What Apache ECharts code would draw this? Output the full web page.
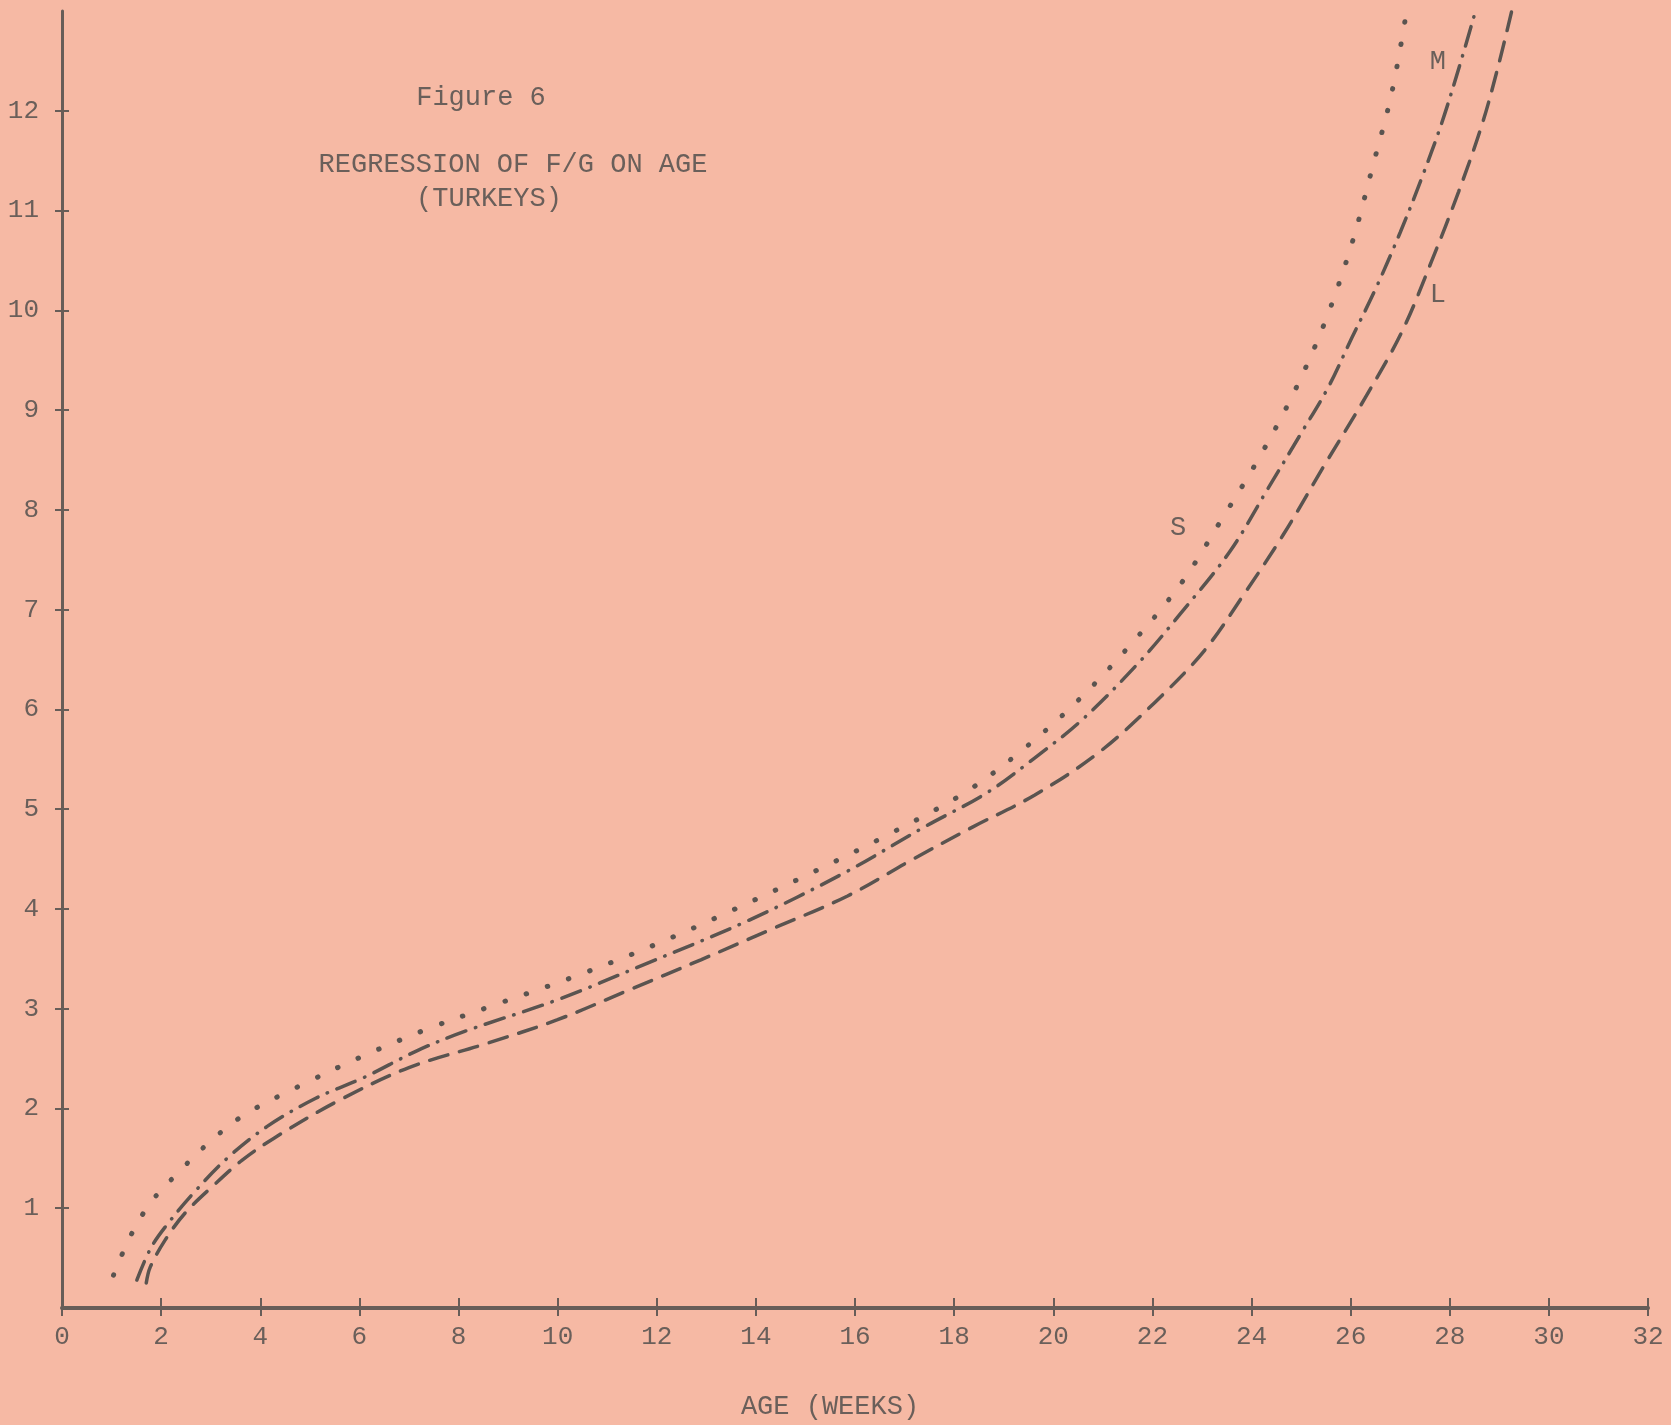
<!DOCTYPE html>
<html>
<head>
<meta charset="utf-8">
<script src="https://cdn.jsdelivr.net/npm/echarts@6/dist/echarts.min.js"></script>
<style>
html,body{margin:0;padding:0;background:#f6b9a4;}
#c{width:1671px;height:1425px;}
</style>
</head>
<body>
<div id="c"></div>
<script>
// ---- data ----
var xTicks = [0,2,4,6,8,10,12,14,16,18,20,22,24,26,28,30,32];
var yTicks = [1,2,3,4,5,6,7,8,9,10,11,12];

// S (dotted)
var sAge = [1.04,1.39,1.81,2.33,2.97,3.66,4.77,6.05,7.39,8.74,10.33,11.91,13.54,15.2,16.73,18.23,19.32,20.44,21.58,22.59,23.43,24.14,24.84,25.48,26.02,26.46,26.83,27.13];
var sFG  = [0.33,0.73,1.07,1.35,1.66,1.93,2.22,2.52,2.80,3.04,3.32,3.63,3.99,4.38,4.76,5.17,5.57,6.06,6.66,7.27,7.93,8.51,9.16,9.88,10.66,11.47,12.18,13.0];

// M (dash-dot)
var mAge = [1.51,1.78,2.08,2.65,3.33,4.14,5.11,6.09,7.17,8.11,10.0,11.73,13.83,15.78,17.43,18.65,19.59,20.57,21.71,22.55,23.56,24.34,24.98,25.55,26.02,26.49,27.0,27.43,27.84,28.21,28.52];
var mFG  = [0.28,0.59,0.81,1.15,1.50,1.82,2.10,2.31,2.58,2.77,3.09,3.44,3.88,4.36,4.83,5.16,5.50,5.89,6.46,6.95,7.58,8.22,8.75,9.23,9.72,10.2,10.78,11.32,11.88,12.47,13.0];

// L (dashed)
var lAge = [1.70,1.78,2.08,2.48,3.06,3.63,4.27,5.55,7.0,8.56,10.0,11.45,12.89,14.33,15.85,17.14,18.37,19.62,20.90,22.05,23.05,23.87,24.64,25.45,26.29,27.03,27.64,28.18,28.65,28.98,29.25];
var lFG  = [0.25,0.41,0.68,0.95,1.23,1.48,1.70,2.07,2.41,2.65,2.89,3.19,3.49,3.80,4.13,4.49,4.82,5.14,5.56,6.07,6.59,7.17,7.75,8.43,9.12,9.78,10.5,11.19,11.86,12.45,13.0];

// curve labels [age, F/G]
var labelS = [22.52, 7.82];
var labelM = [27.76, 12.49];
var labelL = [27.76, 10.15];

// ---- build ----
function zip(a, b){ var o=[]; for (var i=0;i<a.length;i++) o.push([a[i], b[i]]); return o; }

var ink = '#5a5450';
var textInk = '#6a5f5a';
var axisInk = '#675d58';
var mono = '"Liberation Mono", "DejaVu Sans Mono", monospace';

var chart = echarts.init(document.getElementById('c'), null, {renderer:'canvas'});

function lbl(txt, coord){
  return {
    symbol:'circle', symbolSize:0,
    data:[{coord:coord, value:txt}],
    label:{show:true, position:'inside', formatter:txt, color:textInk, fontFamily:mono, fontSize:27},
    itemStyle:{color:'transparent'}
  };
}

var baseSeries = {
  type:'line', showSymbol:false, smooth:0.35,
  xAxisIndex:0, yAxisIndex:0, silent:true, clip:true
};

var option = {
  backgroundColor:'#f6b9a4',
  animation:false,
  grid:{left:62, right:23, top:11, bottom:117, containLabel:false},
  xAxis:[{
    type:'value', min:0, max:32, interval:2, position:'bottom',
    axisLine:{show:true, onZero:false, lineStyle:{color:axisInk, width:4}},
    axisTick:{show:true, inside:false, length:8, lineStyle:{color:axisInk, width:2}},
    axisLabel:{show:true, margin:16, color:textInk, fontFamily:mono, fontSize:26,
      customValues:xTicks, formatter:function(v){return String(v);}},
    splitLine:{show:false}
  },{
    type:'value', min:0, max:32, interval:2, position:'bottom',
    axisLine:{show:false, onZero:false},
    axisTick:{show:true, inside:true, length:10, lineStyle:{color:axisInk, width:2}},
    axisLabel:{show:false}, splitLine:{show:false}
  }],
  yAxis:[{
    type:'value', min:0, max:13, interval:1, position:'left',
    axisLine:{show:true, onZero:false, lineStyle:{color:axisInk, width:3}},
    axisTick:{show:true, inside:false, length:7, customValues:yTicks, lineStyle:{color:axisInk, width:2}},
    axisLabel:{show:true, margin:23, color:textInk, fontFamily:mono, fontSize:26,
      customValues:yTicks, formatter:function(v){return String(v);}},
    splitLine:{show:false}
  },{
    type:'value', min:0, max:13, interval:1, position:'left',
    axisLine:{show:false, onZero:false},
    axisTick:{show:true, inside:true, length:7, customValues:yTicks, lineStyle:{color:axisInk, width:2}},
    axisLabel:{show:false}, splitLine:{show:false}
  }],
  series:[
    Object.assign({}, baseSeries, {
      name:'S', data:zip(sAge, sFG),
      lineStyle:{color:ink, width:5, type:[0.5, 22], cap:'round'},
      markPoint:lbl('S', labelS)
    }),
    Object.assign({}, baseSeries, {
      name:'M', data:zip(mAge, mFG),
      lineStyle:{color:ink, width:3.5, type:[20, 10, 0.5, 10], cap:'round'},
      markPoint:lbl('M', labelM)
    }),
    Object.assign({}, baseSeries, {
      name:'L', data:zip(lAge, lFG),
      lineStyle:{color:ink, width:3.5, type:[19, 12], cap:'round'},
      markPoint:lbl('L', labelL)
    })
  ],
  graphic:[
    {type:'text', x:481, y:98, style:{text:'Figure 6', fill:textInk, font:'27px ' + mono, textAlign:'center', textVerticalAlign:'middle'}},
    {type:'text', x:513, y:165, style:{text:'REGRESSION OF F/G ON AGE', fill:textInk, font:'27px ' + mono, textAlign:'center', textVerticalAlign:'middle'}},
    {type:'text', x:489, y:199, style:{text:'(TURKEYS)', fill:textInk, font:'27px ' + mono, textAlign:'center', textVerticalAlign:'middle'}},
    {type:'text', x:830, y:1407, style:{text:'AGE (WEEKS)', fill:textInk, font:'27px ' + mono, textAlign:'center', textVerticalAlign:'middle'}}
  ]
};
chart.setOption(option);
</script>
</body>
</html>
